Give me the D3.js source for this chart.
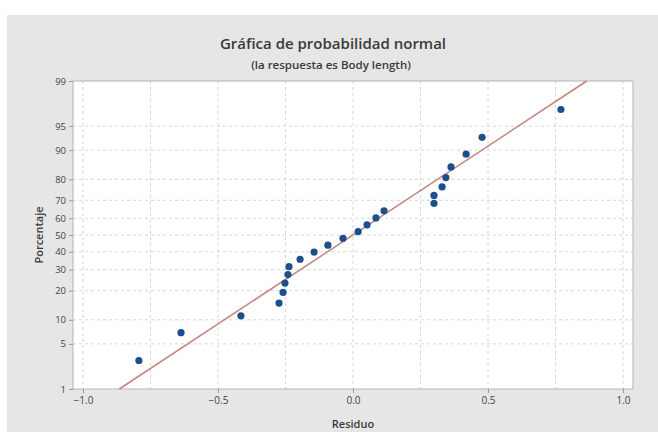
<!DOCTYPE html>
<html>
<head>
<meta charset="utf-8">
<script src="https://cdn.jsdelivr.net/npm/d3@7/dist/d3.min.js"></script>
<style>
  html, body { margin: 0; padding: 0; background: #ffffff; }
  svg { display: block; font-family: "Open Sans", "Noto Sans", sans-serif; }
</style>
</head>
<body>
<svg id="chart" width="658" height="432"></svg>
<script>
// ---- data ----
const title = "Gráfica de probabilidad normal";
const subtitle = "(la respuesta es Body length)";
const xLabel = "Residuo";
const yLabel = "Porcentaje";

const residuals = [-0.793, -0.637, -0.415, -0.274, -0.259, -0.252, -0.241, -0.237,
  -0.196, -0.144, -0.093, -0.037, 0.019, 0.052, 0.085, 0.115,
  0.300, 0.300, 0.330, 0.344, 0.363, 0.419, 0.478, 0.770];
const percents = [2.9, 7.0, 11.1, 15.2, 19.3, 23.4, 27.5, 31.6,
  35.7, 39.8, 43.9, 48.0, 52.0, 56.1, 60.2, 64.3,
  68.4, 72.5, 76.6, 80.7, 84.8, 88.9, 93.0, 97.1];

const xTicks = [-1.0, -0.5, 0.0, 0.5, 1.0];
const xGrid = [-1.0, -0.75, -0.5, -0.25, 0.0, 0.25, 0.5, 0.75, 1.0];
const yTicks = [1, 5, 10, 20, 30, 40, 50, 60, 70, 80, 90, 95, 99];

const fitMean = 0.0;
const fitSd = 0.372;
const fitRange = [1, 99];

// inverse normal CDF (Acklam)
function qnorm(p) {
  const a = [-3.969683028665376e+01, 2.209460984245205e+02, -2.759285104469687e+02, 1.383577518672690e+02, -3.066479806614716e+01, 2.506628277459239e+00];
  const b = [-5.447609879822406e+01, 1.615858368580409e+02, -1.556989798598866e+02, 6.680131188771972e+01, -1.328068155288572e+01];
  const c = [-7.784894002430293e-03, -3.223964580411365e-01, -2.400758277161838e+00, -2.549732539343734e+00, 4.374664141464968e+00, 2.938163982698783e+00];
  const d = [7.784695709041462e-03, 3.224671290700398e-01, 2.445134137142996e+00, 3.754408661907416e+00];
  const pl = 0.02425, ph = 1 - pl;
  let q, r;
  if (p < pl) {
    q = Math.sqrt(-2 * Math.log(p));
    return (((((c[0]*q+c[1])*q+c[2])*q+c[3])*q+c[4])*q+c[5]) / ((((d[0]*q+d[1])*q+d[2])*q+d[3])*q+1);
  } else if (p <= ph) {
    q = p - 0.5; r = q * q;
    return (((((a[0]*r+a[1])*r+a[2])*r+a[3])*r+a[4])*r+a[5])*q / (((((b[0]*r+b[1])*r+b[2])*r+b[3])*r+b[4])*r+1);
  } else {
    q = Math.sqrt(-2 * Math.log(1 - p));
    return -(((((c[0]*q+c[1])*q+c[2])*q+c[3])*q+c[4])*q+c[5]) / ((((d[0]*q+d[1])*q+d[2])*q+d[3])*q+1);
  }
}

const svg = d3.select("#chart");
const W = 658, H = 432;
const plot = { left: 73, right: 633, top: 81, bottom: 389 };

// panel background
svg.append("rect").attr("x", 7).attr("y", 15).attr("width", W - 7).attr("height", H - 15)
  .attr("fill", "#e6e6e6");

const x = d3.scaleLinear().domain([-1.037, 1.037]).range([plot.left, plot.right]);
const z = d3.scaleLinear().domain([qnorm(0.01), qnorm(0.99)]).range([plot.bottom, plot.top]);
const y = p => z(qnorm(p / 100));

// plot area
svg.append("rect").attr("x", plot.left).attr("y", plot.top)
  .attr("width", plot.right - plot.left).attr("height", plot.bottom - plot.top)
  .attr("fill", "#ffffff");

// grid
const grid = svg.append("g");
grid.selectAll("line.v").data(xGrid).join("line")
  .attr("x1", d => x(d)).attr("x2", d => x(d))
  .attr("y1", plot.top).attr("y2", plot.bottom)
  .attr("stroke", "#d6d6d6").attr("stroke-width", 1).attr("stroke-dasharray", "3,3");
grid.selectAll("line.h").data(yTicks.filter(t => t > 1 && t < 99)).join("line")
  .attr("x1", plot.left).attr("x2", plot.right)
  .attr("y1", d => y(d)).attr("y2", d => y(d))
  .attr("stroke", "#d6d6d6").attr("stroke-width", 1).attr("stroke-dasharray", "3,3");

// border
svg.append("rect").attr("x", plot.left).attr("y", plot.top)
  .attr("width", plot.right - plot.left).attr("height", plot.bottom - plot.top)
  .attr("fill", "none").attr("stroke", "#b4b4b4").attr("stroke-width", 1);

// axes
const xAxis = svg.append("g").attr("transform", `translate(0,${plot.bottom})`)
  .call(d3.axisBottom(x).tickValues(xTicks).tickFormat(d3.format(".1f")).tickSize(4).tickPadding(4));
const yAxis = svg.append("g").attr("transform", `translate(${plot.left},0)`)
  .call(d3.axisLeft(z).tickValues(yTicks.map(p => qnorm(p / 100)))
    .tickFormat((d, i) => yTicks[i]).tickSize(4).tickPadding(3));
[xAxis, yAxis].forEach(g => {
  g.select(".domain").remove();
  g.selectAll(".tick line").attr("stroke", "#9a9a9a");
  g.selectAll(".tick text").attr("fill", "#444").style("font-size", "9.5px")
    .style("font-family", "'Open Sans', sans-serif");
});
xAxis.selectAll(".tick text").style("font-size", "10px");

// fitted line
svg.append("line")
  .attr("x1", x(fitMean + fitSd * qnorm(fitRange[0] / 100))).attr("y1", y(fitRange[0]))
  .attr("x2", x(fitMean + fitSd * qnorm(fitRange[1] / 100))).attr("y2", y(fitRange[1]))
  .attr("stroke", "#c4857d").attr("stroke-width", 1.5);

// points
svg.append("g").selectAll("circle").data(residuals).join("circle")
  .attr("cx", d => x(d)).attr("cy", (d, i) => y(percents[i]))
  .attr("r", 3.6).attr("fill", "#1d4f8c");

// titles
svg.append("text").attr("x", 333).attr("y", 49).attr("text-anchor", "middle")
  .attr("fill", "#3a3a3a").style("font-size", "15px").style("font-weight", "600")
  .text(title);
svg.append("text").attr("x", 331).attr("y", 69).attr("text-anchor", "middle")
  .attr("fill", "#3a3a3a").style("font-size", "11.5px").style("font-weight", "600")
  .text(subtitle);
svg.append("text").attr("x", 353).attr("y", 428).attr("text-anchor", "middle")
  .attr("fill", "#3a3a3a").style("font-size", "11px").style("font-weight", "600")
  .text(xLabel);
svg.append("text").attr("transform", `translate(43,${(plot.top + plot.bottom) / 2}) rotate(-90)`)
  .attr("text-anchor", "middle")
  .attr("fill", "#3a3a3a").style("font-size", "11px").style("font-weight", "600")
  .text(yLabel);
</script>
</body>
</html>
